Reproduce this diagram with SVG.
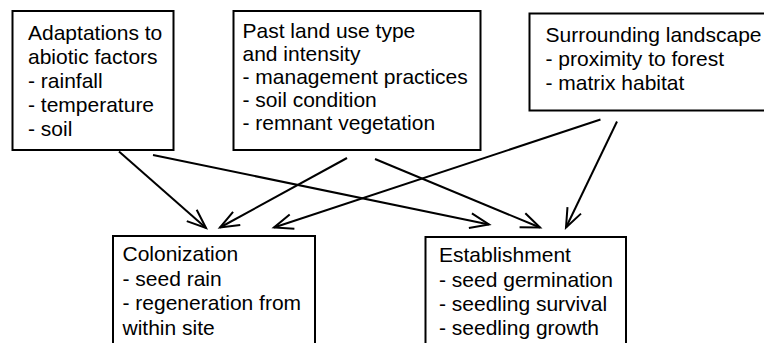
<svg xmlns="http://www.w3.org/2000/svg" width="764" height="343" viewBox="0 0 764 343">
<defs>
<style>
.box{fill:#fff;stroke:#000;stroke-width:2}
.t{font-family:"Liberation Sans",Arial,sans-serif;font-size:21px;fill:#000}
.c{fill:none;stroke:#000;stroke-width:2}
</style>
<marker id="arr" markerUnits="userSpaceOnUse" markerWidth="30" markerHeight="30" refX="0" refY="0" viewBox="-25 -15 30 30" orient="auto" overflow="visible">
<path d="M-19,-7.5 L0,0 L-19,7.5" fill="none" stroke="#000" stroke-width="2"/>
</marker>
</defs>
<rect width="764" height="343" fill="#fff"/>
<g id="connectors">
<line class="c" x1="119" y1="151.5" x2="206" y2="228" marker-end="url(#arr)"/>
<line class="c" x1="153" y1="155" x2="489" y2="224.5" marker-end="url(#arr)"/>
<line class="c" x1="347" y1="158" x2="220" y2="227.5" marker-end="url(#arr)"/>
<line class="c" x1="375" y1="159" x2="540" y2="227.5" marker-end="url(#arr)"/>
<line class="c" x1="600.5" y1="119.5" x2="274" y2="227.5" marker-end="url(#arr)"/>
<line class="c" x1="617" y1="121.5" x2="566" y2="227.5" marker-end="url(#arr)"/>
</g>
<g id="abiotic">
<rect class="box" x="12.5" y="11" width="161" height="139"/>
<text class="t" x="28" y="39.5">Adaptations to</text>
<text class="t" x="28" y="63.5">abiotic factors</text>
<text class="t" x="28" y="87.5">- rainfall</text>
<text class="t" x="28" y="111.5">- temperature</text>
<text class="t" x="28" y="135.5">- soil</text>
</g>
<g id="landuse">
<rect class="box" x="233.5" y="11" width="247" height="139"/>
<text class="t" x="242.5" y="38">Past land use type</text>
<text class="t" x="242.5" y="61">and intensity</text>
<text class="t" x="242.5" y="84">- management practices</text>
<text class="t" x="242.5" y="107">- soil condition</text>
<text class="t" x="242.5" y="130">- remnant vegetation</text>
</g>
<g id="landscape">
<rect class="box" x="529.5" y="13.5" width="260" height="97"/>
<text class="t" x="545.5" y="42">Surrounding landscape</text>
<text class="t" x="545.5" y="66">- proximity to forest</text>
<text class="t" x="545.5" y="90">- matrix habitat</text>
</g>
<g id="colonization">
<rect class="box" x="113" y="236" width="202" height="130"/>
<text class="t" x="122.5" y="261">Colonization</text>
<text class="t" x="122.5" y="285.5">- seed rain</text>
<text class="t" x="122.5" y="310">- regeneration from</text>
<text class="t" x="122.5" y="334.5">within site</text>
</g>
<g id="establishment">
<rect class="box" x="425.5" y="237" width="200.5" height="130"/>
<text class="t" x="439" y="262">Establishment</text>
<text class="t" x="439" y="286.5">- seed germination</text>
<text class="t" x="439" y="310.5">- seedling survival</text>
<text class="t" x="439" y="334.5">- seedling growth</text>
</g>
</svg>
